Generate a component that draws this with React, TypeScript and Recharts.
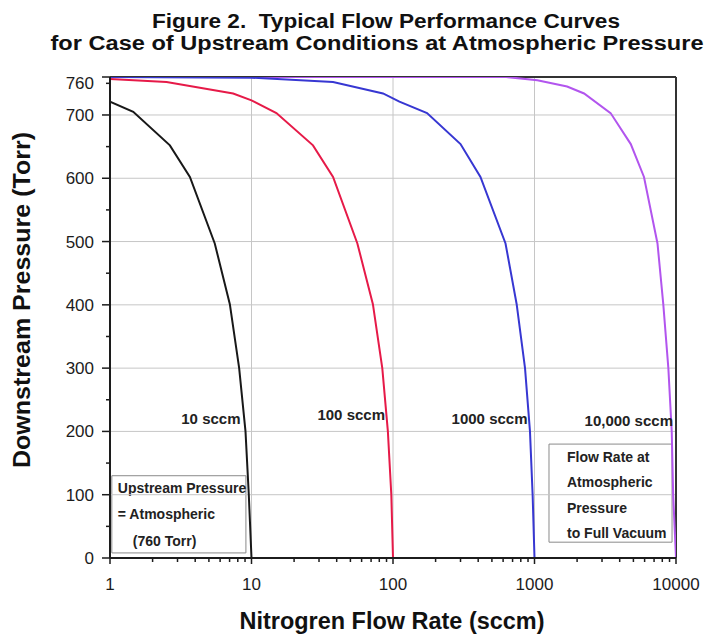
import React from 'react';
import {
  LineChart,
  Line,
  XAxis,
  YAxis,
  ReferenceLine,
  ReferenceArea,
  ReferenceDot,
} from 'recharts';

// flow (sccm) / downstream pressure (Torr)
const FLOW_10 = [1, 1.46, 2.65, 3.67, 5.5, 7.03, 8.18, 9.07, 9.57, 10];
const PRESS_10 = [721, 705, 652, 602, 497, 401, 300, 200, 100, 0];

const FLOW_100 = [1, 2.51, 7.42, 10, 15, 27.2, 37.7, 56, 72.1, 84, 92, 97.3, 100];
const PRESS_100 = [757, 752, 734, 723, 703, 652, 602, 497, 401, 300, 200, 100, 0];

const FLOW_1000 = [1, 10, 37.7, 85, 111, 174, 300, 415, 624, 748, 857, 929, 970, 1000];
const PRESS_1000 = [760, 759, 752, 734, 721, 703, 654, 602, 497, 401, 300, 200, 100, 0];

const FLOW_10000 = [1, 631, 1047, 1700, 2240, 3450, 4790, 5940, 7400, 8130, 8830, 9330, 9550, 10000];
const PRESS_10000 = [760, 760, 755, 745, 734, 703, 654, 602, 497, 401, 300, 200, 100, 0];

const X_MAJOR = [1, 10, 100, 1000, 10000];
const X_TICKS = [
  1, 2, 3, 4, 5, 6, 7, 8, 9,
  10, 20, 30, 40, 50, 60, 70, 80, 90,
  100, 200, 300, 400, 500, 600, 700, 800, 900,
  1000, 2000, 3000, 4000, 5000, 6000, 7000, 8000, 9000,
  10000,
];
const X_GRID = [10, 100, 1000];

const Y_TICKS = [0, 50, 100, 150, 200, 250, 300, 350, 400, 450, 500, 550, 600, 650, 700, 750, 760];
const Y_MAJOR = [0, 100, 200, 300, 400, 500, 600, 700, 760];
const Y_GRID = [100, 200, 300, 400, 500, 600, 700];

const CURVE_LABELS = ['10 sccm', '100 sccm', '1000 sccm', '10,000 sccm'];
const CURVE_LABEL_X = [10, 100, 1000, 10000];
const CURVE_LABEL_Y = [221, 226, 220, 217];
const LABEL_DX = [-11, -8, -7, -3];

const LEFT_NOTE = ['Upstream Pressure', '= Atmospheric', '(760 Torr)'];
const RIGHT_NOTE = ['Flow Rate at', 'Atmospheric', 'Pressure', 'to Full Vacuum'];

const toPoints = (q: number[], p: number[]) => q.map((v, i) => ({ q: v, p: p[i] }));

const SERIES = [
  { key: 'c10', color: '#181818', data: toPoints(FLOW_10, PRESS_10) },
  { key: 'c100', color: '#e61a48', data: toPoints(FLOW_100, PRESS_100) },
  { key: 'c10000', color: '#b255ee', data: toPoints(FLOW_10000, PRESS_10000) },
  { key: 'c1000', color: '#3737d2', data: toPoints(FLOW_1000, PRESS_1000) },
];

const FONT = '"Liberation Sans", Arial, sans-serif';
const INK = '#1c1c1c';

const XTick = (props: any) => {
  const { x, y, payload } = props;
  const major = X_MAJOR.includes(payload.value);
  return (
    <g>
      <line x1={x} x2={x} y1={y} y2={y + (major ? 6 : 4)} stroke={INK} strokeWidth={1.5} />
      {major && (
        <text x={x} y={y + 32} textAnchor="middle" fontSize={17} fill={INK} fontFamily={FONT}>
          {payload.value}
        </text>
      )}
    </g>
  );
};

const YTick = (props: any) => {
  const { x, y, payload } = props;
  const major = Y_MAJOR.includes(payload.value);
  return (
    <g>
      <line x1={x} x2={x - (major ? 8 : 4)} y1={y} y2={y} stroke={INK} strokeWidth={1.5} />
      {major && (
        <text
          x={x - 16}
          y={y + (payload.value === 760 ? 12 : 6)}
          textAnchor="end"
          fontSize={17}
          fill={INK}
          fontFamily={FONT}
        >
          {payload.value}
        </text>
      )}
    </g>
  );
};

const noteLabel = (lines: string[], dx: number[], first: number, step: number) => (props: any) => {
  const vb = props.viewBox;
  return (
    <g>
      {lines.map((t, i) => (
        <text
          key={t}
          x={vb.x + dx[i]}
          y={vb.y + first + i * step}
          fontSize={14}
          fontWeight="bold"
          fill="#222"
          fontFamily={FONT}
        >
          {t}
        </text>
      ))}
    </g>
  );
};

const curveLabel = (text: string, dx: number) => (props: any) => {
  const vb = props.viewBox;
  const cx = vb.x + (vb.width || 0) / 2;
  const cy = vb.y + (vb.height || 0) / 2;
  return (
    <text x={cx + dx} y={cy + 5.5} textAnchor="end" fontSize={15} fontWeight="bold" fill="#222" fontFamily={FONT}>
      {text}
    </text>
  );
};

export default function App() {
  return (
    <div style={{ position: 'absolute', left: 0, top: 0, width: 711, height: 637, background: '#fff' }}>
      <LineChart width={711} height={637} margin={{ top: 77, right: 35, bottom: 39, left: 0 }}>
        <XAxis
          dataKey="q"
          type="number"
          scale="log"
          domain={[1, 10000]}
          allowDataOverflow
          ticks={X_TICKS}
          interval={0}
          tick={<XTick />}
          tickLine={false}
          tickSize={0}
          tickMargin={0}
          height={40}
          axisLine={{ stroke: INK, strokeWidth: 2 }}
        />
        <YAxis
          dataKey="p"
          type="number"
          domain={[0, 760]}
          allowDataOverflow
          ticks={Y_TICKS}
          interval={0}
          tick={<YTick />}
          tickLine={false}
          tickSize={0}
          tickMargin={0}
          width={110}
          axisLine={{ stroke: INK, strokeWidth: 2 }}
        />
        {Y_GRID.map((v) => (
          <ReferenceLine key={`gy${v}`} y={v} stroke="#c6c6c6" strokeWidth={1} />
        ))}
        {X_GRID.map((v) => (
          <ReferenceLine key={`gx${v}`} x={v} stroke="#c6c6c6" strokeWidth={1} />
        ))}
        <ReferenceLine y={760} stroke="#333" strokeWidth={2} />
        <ReferenceLine x={10000} stroke="#333" strokeWidth={2} />
        <ReferenceArea
          x1={1.03}
          x2={9.13}
          y1={8}
          y2={130}
          fill="#fff"
          fillOpacity={1}
          stroke="#8a8a8a"
          strokeWidth={1}
          label={noteLabel(LEFT_NOTE, [6, 6, 21], 17, 26.5)}
        />
        <ReferenceArea
          x1={1266}
          x2={9376}
          y1={25}
          y2={180}
          fill="#fff"
          fillOpacity={1}
          stroke="#8a8a8a"
          strokeWidth={1}
          label={noteLabel(RIGHT_NOTE, [18, 18, 18, 18], 18, 25.3)}
        />
        {SERIES.map((s) => (
          <Line
            key={s.key}
            data={s.data}
            dataKey="p"
            type="linear"
            stroke={s.color}
            strokeWidth={2}
            dot={false}
            activeDot={false}
            isAnimationActive={false}
          />
        ))}
        {CURVE_LABELS.map((t, i) => (
          <ReferenceDot
            key={t}
            x={CURVE_LABEL_X[i]}
            y={CURVE_LABEL_Y[i]}
            r={0}
            fill="none"
            stroke="none"
            label={curveLabel(t, LABEL_DX[i])}
          />
        ))}
      </LineChart>
      <svg
        width={711}
        height={637}
        style={{ position: 'absolute', left: 0, top: 0, pointerEvents: 'none' }}
        fontFamily={FONT}
        fontWeight="bold"
        fill="#111"
      >
        <text x={386} y={28} textAnchor="middle" fontSize={20} textLength={468} lengthAdjust="spacingAndGlyphs">
          {'Figure 2.\u00A0 Typical Flow Performance Curves'}
        </text>
        <text x={377} y={50} textAnchor="middle" fontSize={20} textLength={653} lengthAdjust="spacingAndGlyphs">
          for Case of Upstream Conditions at Atmospheric Pressure
        </text>
        <text x={392} y={629} textAnchor="middle" fontSize={23} textLength={305} lengthAdjust="spacingAndGlyphs">
          Nitrogren Flow Rate (sccm)
        </text>
        <text
          x={30}
          y={300}
          transform="rotate(-90 30 300)"
          textAnchor="middle"
          fontSize={24}
          textLength={336}
          lengthAdjust="spacingAndGlyphs"
        >
          Downstream Pressure (Torr)
        </text>
      </svg>
    </div>
  );
}
